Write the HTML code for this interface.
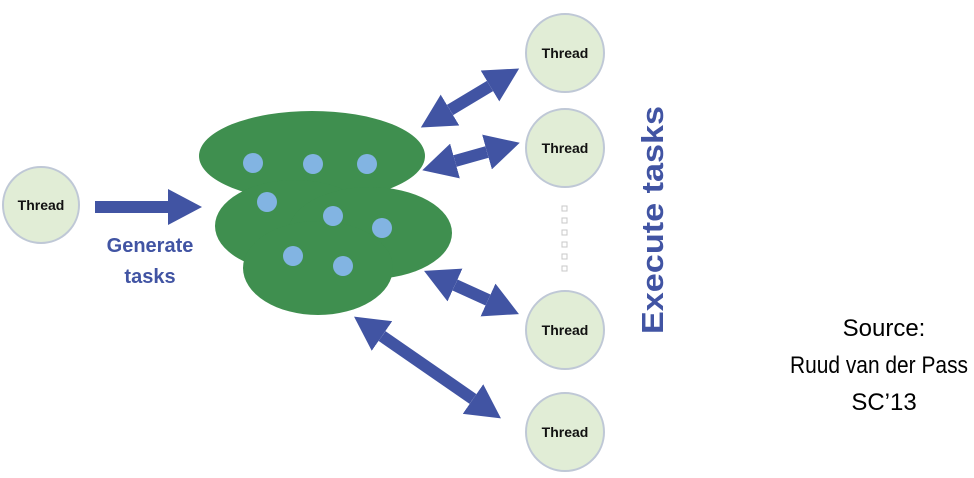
<!DOCTYPE html>
<html><head><meta charset="utf-8"><style>
html,body{margin:0;padding:0;background:#fff;width:974px;height:478px;overflow:hidden}
svg{display:block}
</style></head><body>
<svg width="974" height="478" viewBox="0 0 974 478" xmlns="http://www.w3.org/2000/svg">
<defs>
<marker id="h" markerUnits="userSpaceOnUse" markerWidth="36" markerHeight="36" refX="0" refY="18" orient="auto-start-reverse" viewBox="0 0 36 36">
<path d="M0,0 L34,18 L0,36 Z" fill="#4154a3"/>
</marker>
</defs>
<g fill="#3f8f4f">
<ellipse cx="312" cy="156" rx="113" ry="45"/>
<ellipse cx="295" cy="226" rx="80" ry="46"/>
<ellipse cx="370" cy="233" rx="82" ry="46"/>
<ellipse cx="318" cy="268" rx="75" ry="47"/>
</g>
<g fill="#82b4e2">
<circle cx="253" cy="163" r="10"/><circle cx="313" cy="164" r="10"/><circle cx="367" cy="164" r="10"/>
<circle cx="267" cy="202" r="10"/><circle cx="333" cy="216" r="10"/><circle cx="382" cy="228" r="10"/>
<circle cx="293" cy="256" r="10"/><circle cx="343" cy="266" r="10"/>
</g>
<g stroke="#4154a3" stroke-width="12" fill="none">
<line x1="95" y1="207" x2="168" y2="207" marker-end="url(#h)"/>
<line x1="450" y1="110" x2="490" y2="86" marker-start="url(#h)" marker-end="url(#h)"/>
<line x1="455" y1="161" x2="487" y2="152" marker-start="url(#h)" marker-end="url(#h)"/>
<line x1="455" y1="285" x2="488" y2="300" marker-start="url(#h)" marker-end="url(#h)"/>
<line x1="382" y1="336" x2="473" y2="399" marker-start="url(#h)" marker-end="url(#h)"/>
</g>
<g fill="#e1edd6" stroke="#bfc8d6" stroke-width="2">
<circle cx="41" cy="205" r="38"/>
<circle cx="565" cy="53" r="39"/>
<circle cx="565" cy="148" r="39"/>
<circle cx="565" cy="330" r="39"/>
<circle cx="565" cy="432" r="39"/>
</g>
<g font-family="Liberation Sans, sans-serif" font-weight="bold" font-size="14" fill="#111" text-anchor="middle">
<text x="41" y="210">Thread</text>
<text x="565" y="58">Thread</text>
<text x="565" y="153">Thread</text>
<text x="565" y="335">Thread</text>
<text x="565" y="437">Thread</text>
</g>
<g fill="#fff" stroke="#c8c8c8" stroke-width="1">
<rect x="562" y="206" width="5" height="5"/><rect x="562" y="218" width="5" height="5"/>
<rect x="562" y="230" width="5" height="5"/><rect x="562" y="242" width="5" height="5"/>
<rect x="562" y="254" width="5" height="5"/><rect x="562" y="266" width="5" height="5"/>
</g>
<g font-family="Liberation Sans, sans-serif" font-weight="bold" fill="#4154a3" text-anchor="middle">
<text x="150" y="252" font-size="20">Generate</text>
<text x="150" y="283" font-size="20">tasks</text>
<text transform="translate(663,220) rotate(-90)" font-size="31" textLength="228" lengthAdjust="spacingAndGlyphs">Execute tasks</text>
</g>
<g font-family="Liberation Sans, sans-serif" font-size="24" fill="#000" text-anchor="middle">
<text x="884" y="336">Source:</text>
<text x="879" y="373" textLength="178" lengthAdjust="spacingAndGlyphs">Ruud van der Pass</text>
<text x="884" y="410">SC’13</text>
</g>
</svg>
</body></html>
